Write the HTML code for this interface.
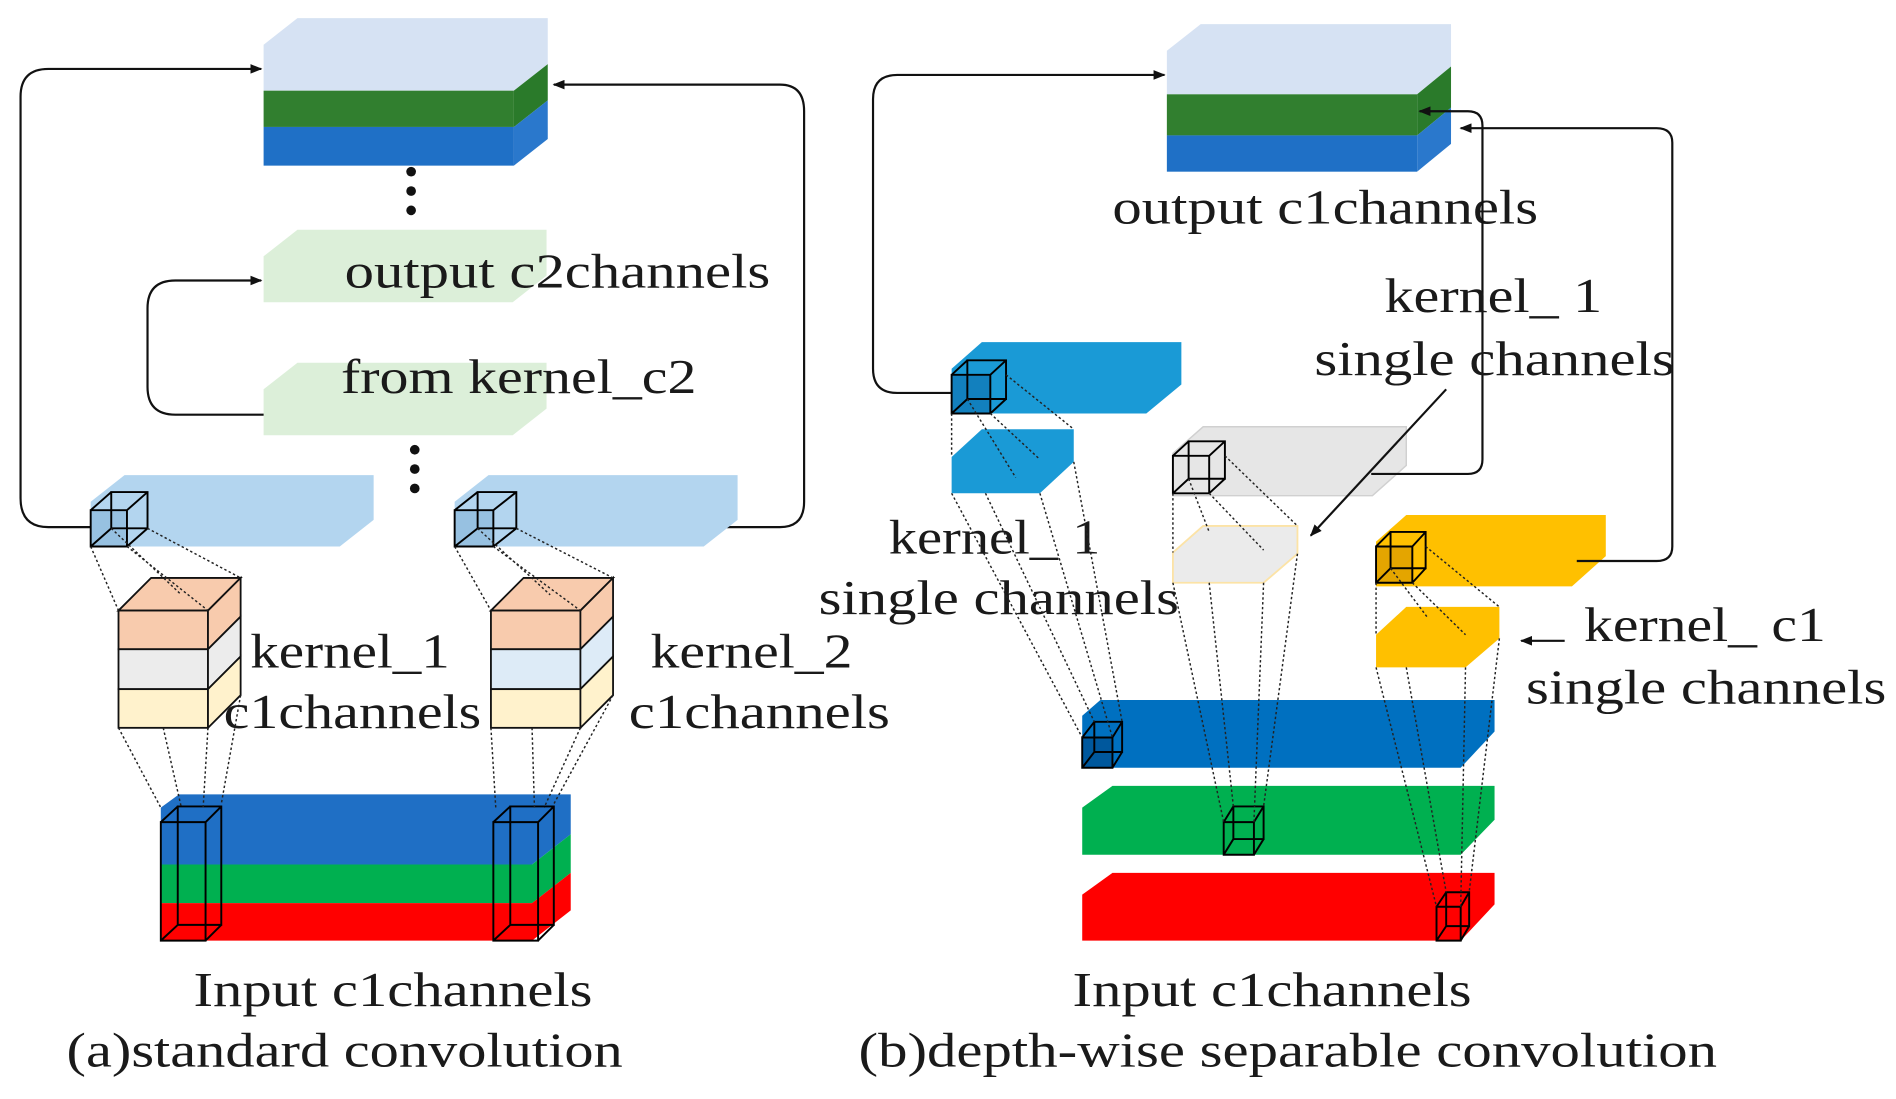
<!DOCTYPE html>
<html><head><meta charset="utf-8"><style>
html,body{margin:0;padding:0;background:#fff;}
svg{display:block;}
text{font-family:"Liberation Serif",serif;fill:#1a1a1a;font-size:40px;}
.w{fill:none;stroke:#000;stroke-width:1.6;}
.d{stroke:#222;stroke-width:1.2;stroke-dasharray:2 2;fill:none;}
.s{stroke:#222;stroke-width:1.2;fill:none;}
.ln{fill:none;stroke:#111;stroke-width:1.8;}
</style></head><body>
<svg width="1896" height="1099" viewBox="0 0 1568 909" preserveAspectRatio="none" xmlns="http://www.w3.org/2000/svg">
<defs><marker id="a" markerWidth="10" markerHeight="8" refX="9" refY="4" orient="auto" markerUnits="userSpaceOnUse"><path d="M0,0 L10,4 L0,8 z" fill="#111"/></marker></defs>

<!-- ===== LEFT (a) ===== -->
<path class="ln" d="M75,436 H40 Q17,436 17,412 V80 Q17,57 40,57 H216" marker-end="url(#a)"/>
<path class="ln" d="M220,343 H145 Q122,343 122,320 V255 Q122,232 145,232 H216" marker-end="url(#a)"/>
<path class="ln" d="M582,436 H645 Q665,436 665,415 V92 Q665,70 645,70 H458" marker-end="url(#a)"/>

<polygon points="218,37 246,15 453,15 453,53 425,75 218,75" fill="#d6e2f3"/>
<rect x="218" y="75" width="207" height="30" fill="#317f2f"/>
<polygon points="425,75 453,53 453,83 425,105" fill="#2a7a2a"/>
<rect x="218" y="105" width="207" height="32" fill="#1f70c6"/>
<polygon points="425,105 453,83 453,115 425,137" fill="#2a78cc"/>

<circle cx="340" cy="142" r="4" fill="#111"/><circle cx="340" cy="158" r="4" fill="#111"/><circle cx="340" cy="174" r="4" fill="#111"/>
<circle cx="343" cy="372" r="4" fill="#111"/><circle cx="343" cy="388" r="4" fill="#111"/><circle cx="343" cy="404" r="4" fill="#111"/>

<polygon points="218,212 246,190 452,190 452,228 424,250 218,250" fill="#dcefd9"/>
<polygon points="218,322 246,300 452,300 452,338 424,360 218,360" fill="#dcefd9"/>
<text x="285" y="238" textLength="352" lengthAdjust="spacingAndGlyphs">output c2channels</text>
<text x="282" y="325" textLength="294" lengthAdjust="spacingAndGlyphs">from kernel_c2</text>

<polygon points="75,415 103,393 309,393 309,430 281,452 75,452" fill="#b3d5ef"/>
<polygon points="376,415 404,393 610,393 610,430 582,452 376,452" fill="#b3d5ef"/>
<!-- cubes -->
<g fill="#7fb0d6" fill-opacity=".55"><rect x="75" y="422" width="30" height="30"/><rect x="376" y="422" width="32" height="30"/></g>
<path class="w" d="M75,422h30v30h-30z M92,407h30v30h-30z M75,422l17,-15 M105,422l17,-15 M105,452l17,-15 M75,452l17,-15"/>
<path class="w" d="M376,422h32v30h-32z M395,407h32v30h-32z M376,422l19,-15 M408,422l19,-15 M408,452l19,-15 M376,452l19,-15"/>

<!-- kernel stacks -->
<g stroke="#111" stroke-width="1.5">
<polygon points="98,505 125,478 199,478 172,505" fill="#f8cbad"/>
<rect x="98" y="505" width="74" height="32" fill="#f8cbad"/><polygon points="172,505 199,478 199,510 172,537" fill="#f8cbad"/>
<rect x="98" y="537" width="74" height="33" fill="#ececec"/><polygon points="172,537 199,510 199,543 172,570" fill="#ececec"/>
<rect x="98" y="570" width="74" height="32" fill="#fff2cc"/><polygon points="172,570 199,543 199,575 172,602" fill="#fff2cc"/>
<polygon points="406,505 433,478 507,478 480,505" fill="#f8cbad"/>
<rect x="406" y="505" width="74" height="32" fill="#f8cbad"/><polygon points="480,505 507,478 507,510 480,537" fill="#f8cbad"/>
<rect x="406" y="537" width="74" height="33" fill="#ddebf7"/><polygon points="480,537 507,510 507,543 480,570" fill="#ddebf7"/>
<rect x="406" y="570" width="74" height="32" fill="#fff2cc"/><polygon points="480,570 507,543 507,575 480,602" fill="#fff2cc"/>
</g>
<path class="d" d="M75,452 L98,505 M92,437 L150,492 M105,452 L172,505 M122,437 L199,478"/>
<path class="d" d="M376,452 L406,505 M395,437 L455,492 M408,452 L480,505 M427,437 L507,478"/>

<text x="207" y="552" textLength="165" lengthAdjust="spacingAndGlyphs">kernel_1</text>
<text x="185" y="602" textLength="213" lengthAdjust="spacingAndGlyphs">c1channels</text>
<text x="538" y="552" textLength="167" lengthAdjust="spacingAndGlyphs">kernel_2</text>
<text x="520" y="602" textLength="216" lengthAdjust="spacingAndGlyphs">c1channels</text>

<!-- input left -->
<polygon points="133,668 148,657 472,657 472,690 440,715 133,715" fill="#1f6fc5"/>
<polygon points="133,715 440,715 472,690 472,722 440,747 133,747" fill="#00b050"/>
<polygon points="133,747 440,747 472,722 472,753 440,778 133,778" fill="#ff0000"/>
<path class="w" d="M133,680h37v98h-37z M147,667h36v98h-36z M133,680l14,-13 M170,680l13,-13 M170,778l13,-13 M133,778l14,-13"/>
<path class="w" d="M408,680h37v98h-37z M422,667h36v98h-36z M408,680l14,-13 M445,680l13,-13 M445,778l13,-13 M408,778l14,-13"/>
<path class="d" d="M98,602 L133,668 M135,602 L150,668 M172,602 L168,668 M199,575 L183,665"/>
<path class="d" d="M406,602 L410,668 M440,602 L442,668 M480,602 L450,668 M507,575 L458,665"/>

<text x="160" y="832" textLength="330" lengthAdjust="spacingAndGlyphs">Input c1channels</text>
<text x="55" y="882" textLength="460" lengthAdjust="spacingAndGlyphs">(a)standard convolution</text>

<!-- ===== RIGHT (b) ===== -->
<path class="ln" d="M787,325 H742 Q722,325 722,305 V82 Q722,62 742,62 H963" marker-end="url(#a)"/>

<polygon points="965,42 993,20 1200,20 1200,55 1172,78 965,78" fill="#d6e2f3"/>
<rect x="965" y="78" width="207" height="34" fill="#317f2f"/>
<polygon points="1172,78 1200,55 1200,89 1172,112" fill="#2a7a2a"/>
<rect x="965" y="112" width="207" height="30" fill="#1f70c6"/>
<polygon points="1172,112 1200,89 1200,119 1172,142" fill="#2a78cc"/>
<text x="920" y="185" textLength="352" lengthAdjust="spacingAndGlyphs">output c1channels</text>

<polygon points="787,305 812,283 977,283 977,318 948,342 787,342" fill="#1a9ad6"/>
<polygon points="787,378 812,355 888,355 888,382 860,408 787,408" fill="#1a9ad6"/>
<polygon points="970,375 995,353 1163,353 1163,385 1135,410 970,410" fill="#e6e6e6" stroke="#d0d0d0" stroke-width="1.2"/>
<polygon points="970,457 995,435 1073,435 1073,458 1045,482 970,482" fill="#ebebeb" stroke="#fce3a6" stroke-width="1.5"/>
<polygon points="1138,448 1163,426 1328,426 1328,460 1300,485 1138,485" fill="#ffc000"/>
<polygon points="1138,525 1163,502 1240,502 1240,528 1212,552 1138,552" fill="#ffc000"/>

<path class="ln" d="M1134,392 H1214 Q1226,392 1226,380 V104 Q1226,92 1214,92 H1174" marker-end="url(#a)"/>
<path class="ln" d="M1304,464 H1370 Q1383,464 1383,452 V118 Q1383,106 1370,106 H1208" marker-end="url(#a)"/>
<path class="ln" d="M1196,322 L1084,443" marker-end="url(#a)"/>
<path class="ln" d="M1294,530 H1258" marker-end="url(#a)"/>

<!-- cubes -->
<rect x="787" y="310" width="32" height="32" fill="#0d6fae" fill-opacity=".6"/>
<path class="w" d="M787,310h32v32h-32z M800,298h32v32h-32z M787,310l13,-12 M819,310l13,-12 M819,342l13,-12 M787,342l13,-12"/>
<path class="w" d="M970,377h30v31h-30z M983,365h30v31h-30z M970,377l13,-12 M1000,377l13,-12 M1000,408l13,-12 M970,408l13,-12"/>
<rect x="1138" y="452" width="30" height="30" fill="#d99a00" fill-opacity=".7"/>
<path class="w" d="M1138,452h30v30h-30z M1150,440h29v30h-29z M1138,452l12,-12 M1168,452l11,-12 M1168,482l11,-12 M1138,482l12,-12"/>

<text x="735" y="458" textLength="175" lengthAdjust="spacingAndGlyphs">kernel_ 1</text>
<text x="677" y="508" textLength="298" lengthAdjust="spacingAndGlyphs">single channels</text>
<text x="1145" y="258" textLength="180" lengthAdjust="spacingAndGlyphs">kernel_ 1</text>
<text x="1087" y="310" textLength="298" lengthAdjust="spacingAndGlyphs">single channels</text>
<text x="1310" y="530" textLength="200" lengthAdjust="spacingAndGlyphs">kernel_ c1</text>
<text x="1262" y="582" textLength="298" lengthAdjust="spacingAndGlyphs">single channels</text>

<!-- input right -->
<polygon points="895,592 910,579 1236,579 1236,605 1208,635 895,635" fill="#0070c0"/>
<polygon points="895,668 920,650 1236,650 1236,678 1208,707 895,707" fill="#00b050"/>
<polygon points="895,740 920,722 1236,722 1236,748 1208,778 895,778" fill="#ff0000"/>
<rect x="895" y="610" width="25" height="25" fill="#003f7a" fill-opacity=".5"/>
<path class="w" d="M895,610h25v25h-25z M905,597h23v25h-23z M895,610l10,-13 M920,610l8,-13 M920,635l8,-13 M895,635l10,-13"/>
<path class="w" d="M1012,680h25v27h-25z M1020,667h25v27h-25z M1012,680l8,-13 M1037,680l8,-13 M1037,707l8,-13 M1012,707l8,-13"/>
<path class="w" d="M1188,750h20v28h-20z M1196,738h19v28h-19z M1188,750l8,-12 M1208,750l7,-12 M1208,778l7,-12 M1188,778l8,-12"/>

<!-- dotted connectors right -->
<path class="d" d="M787,342 L787,378 M800,330 L840,395 M819,342 L860,380 M832,310 L888,355"/>
<path class="d" d="M787,408 L895,610 M815,408 L905,597 M860,408 L920,610 M888,382 L928,597"/>
<path class="d" d="M970,408 L970,457 M983,396 L1000,440 M1000,408 L1045,455 M1013,377 L1073,435"/>
<path class="d" d="M970,482 L1012,680 M1000,482 L1020,667 M1045,482 L1037,680 M1073,458 L1045,667"/>
<path class="d" d="M1138,482 L1138,525 M1150,470 L1180,510 M1168,482 L1212,525 M1179,452 L1240,502"/>
<path class="d" d="M1138,552 L1188,750 M1163,552 L1196,738 M1212,552 L1208,750 M1240,528 L1215,738"/>

<text x="887" y="832" textLength="330" lengthAdjust="spacingAndGlyphs">Input c1channels</text>
<text x="710" y="882" textLength="710" lengthAdjust="spacingAndGlyphs">(b)depth-wise separable convolution</text>
</svg>
</body></html>
